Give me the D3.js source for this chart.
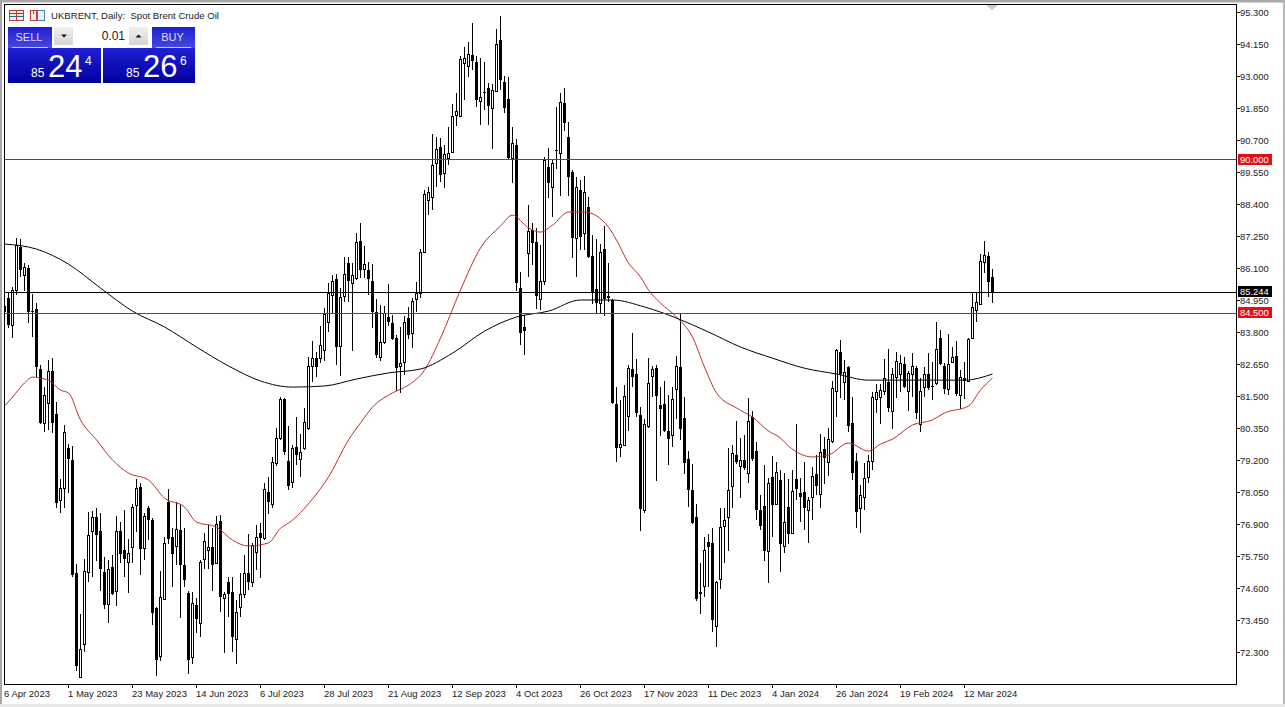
<!DOCTYPE html>
<html><head><meta charset="utf-8">
<script src="https://cdn.jsdelivr.net/npm/d3@7/dist/d3.min.js"></script>
<style>html,body{margin:0;padding:0;background:#fff;overflow:hidden}svg{display:block}text{font-family:"Liberation Sans",Arial,sans-serif}</style>
</head><body><svg id="c" width="1285" height="707"></svg>
<script>
const opens=[84.73,85.02,84.05,85.31,86.85,85.85,86.10,84.55,84.63,82.47,
80.53,81.25,82.40,80.85,77.76,78.19,79.63,79.20,75.14,71.40,
72.59,75.17,76.65,77.15,76.65,75.17,74.02,75.35,74.49,76.65,
75.96,75.53,76.07,77.58,78.23,76.04,77.47,77.04,73.88,72.15,
74.20,77.69,76.43,76.11,76.68,75.42,74.42,72.12,73.99,73.34,
75.64,75.96,76.07,75.50,77.01,74.24,74.81,74.46,72.77,73.92,
74.38,75.14,74.81,75.89,76.57,76.39,78.05,77.62,79.09,79.99,
81.39,79.16,78.41,79.67,79.23,79.63,80.35,82.58,82.86,82.86,
83.15,84.16,85.13,85.70,83.30,85.09,86.28,85.56,85.74,87.07,
86.06,86.03,85.63,84.52,82.90,83.44,84.34,84.12,83.58,82.58,
82.72,84.30,83.76,84.98,85.20,86.67,88.54,88.65,89.87,90.45,
89.51,90.05,90.27,91.60,91.56,93.47,93.36,93.75,93.50,92.10,
92.42,92.57,91.85,92.46,94.29,92.78,92.17,90.05,90.52,85.38,
83.98,86.64,87.47,87.03,84.98,85.63,89.73,89.01,90.34,90.23,
92.03,90.81,89.55,87.18,88.90,87.36,88.29,86.53,85.35,84.84,
86.78,85.09,84.95,81.21,79.67,79.74,80.78,82.47,82.29,80.82,
77.40,80.42,82.22,82.50,81.18,81.21,80.24,80.10,81.75,82.54,
80.71,79.23,78.12,77.15,74.46,74.67,76.25,76.22,73.23,74.92,
76.83,77.15,78.26,79.38,78.98,79.20,78.73,80.74,79.52,77.40,
77.55,75.93,78.59,77.62,78.48,76.11,77.51,76.57,78.52,78.01,
78.05,77.40,77.87,78.70,77.98,79.59,79.13,79.88,81.68,83.08,
82.00,82.54,80.53,79.16,77.47,77.87,78.59,79.16,81.39,81.46,
81.68,82.00,80.96,82.18,82.29,82.65,81.68,82.29,82.50,80.49,
81.82,82.29,81.86,81.97,83.58,82.58,81.75,82.72,82.94,81.53,
82.15,82.04,83.58,84.59,84.81,86.31,86.53,85.78];
const highs=[84.95,85.24,85.42,87.18,87.14,86.28,86.21,85.17,84.84,82.61,
81.82,82.79,82.86,81.28,78.52,80.46,79.77,79.70,75.46,73.66,
75.64,77.33,77.37,77.47,77.29,75.71,75.60,75.78,77.19,76.97,
77.40,76.36,77.62,78.52,78.37,77.29,77.55,77.11,73.92,75.21,
76.43,78.16,76.75,77.69,77.58,76.75,74.49,74.46,74.24,75.60,
76.57,76.86,76.75,77.19,77.22,74.46,74.99,74.99,74.17,75.14,
75.78,76.54,76.22,76.86,76.93,78.37,78.59,79.31,80.35,81.46,
81.43,80.42,79.74,80.74,80.13,81.07,82.90,83.48,83.08,84.01,
84.66,85.56,85.85,85.88,85.38,86.49,86.49,86.28,87.36,87.72,
86.90,86.31,86.24,84.98,84.77,84.73,85.52,84.41,83.69,83.98,
84.37,84.70,85.02,85.60,86.78,88.90,89.01,90.91,90.81,90.77,
90.52,91.17,91.99,92.39,93.72,94.04,94.22,94.90,93.72,93.65,
93.50,92.75,92.71,94.69,95.16,93.00,92.96,91.17,90.73,85.96,
84.41,88.36,87.72,87.54,86.93,90.09,90.41,89.98,91.88,92.39,
92.57,91.35,89.62,89.37,89.26,89.40,88.65,87.29,87.14,86.96,
87.61,86.28,84.98,81.82,81.36,81.89,82.61,83.76,82.83,81.10,
80.67,82.86,82.58,82.61,81.82,82.04,81.53,81.82,82.94,84.48,
81.46,79.52,79.05,77.62,75.50,76.43,76.54,76.75,74.85,77.47,
77.47,79.63,79.74,80.60,79.99,80.10,81.43,80.96,79.85,77.94,
79.02,78.55,79.34,79.13,78.84,78.73,78.52,78.84,80.49,78.55,
79.13,77.87,78.95,79.38,80.13,80.03,80.35,82.04,83.19,83.51,
82.79,82.58,81.46,79.45,78.30,79.09,79.38,81.64,81.93,81.93,
82.83,83.19,82.50,83.08,82.97,82.90,82.40,83.04,82.58,82.15,
82.54,83.04,82.72,84.16,83.87,82.68,83.73,83.26,83.48,82.43,
82.72,83.58,85.24,85.24,86.60,87.07,86.67,86.06];
const lows=[84.05,83.94,83.58,85.13,85.78,85.27,84.12,83.62,82.18,80.49,
80.20,80.28,80.17,77.47,77.29,77.47,78.01,74.99,71.62,71.36,
72.30,74.81,74.99,75.57,74.49,73.84,73.34,74.35,73.95,75.50,
74.99,74.42,75.50,76.61,75.07,75.60,76.32,73.27,71.44,71.97,
74.17,76.18,74.63,75.42,73.52,74.63,71.51,71.87,72.98,72.84,
75.28,75.28,74.49,75.46,73.74,72.26,73.56,72.30,71.87,73.56,
74.24,74.53,74.63,75.24,74.96,76.32,77.26,77.47,78.98,79.92,
79.38,78.12,78.19,79.02,78.59,79.56,80.28,82.00,82.18,82.68,
82.76,83.80,84.48,82.61,82.22,84.88,84.88,83.12,85.67,85.74,
85.74,85.13,83.94,82.86,82.76,83.37,84.01,83.51,81.68,81.61,
82.25,83.55,83.22,84.52,85.02,86.64,88.00,88.18,89.01,89.19,
88.97,89.80,90.23,91.20,91.53,92.14,92.96,93.21,91.88,91.24,
91.78,91.24,90.38,92.42,92.50,91.67,90.02,89.15,85.27,83.33,
82.97,85.78,86.21,84.63,84.59,85.49,88.62,87.93,89.66,88.69,
91.02,88.69,86.46,85.78,86.75,86.75,86.46,84.81,84.48,84.48,
84.37,84.88,81.21,79.13,79.31,79.70,80.24,81.82,80.74,76.65,
77.29,80.35,81.46,78.44,80.06,80.20,79.02,79.67,80.67,79.92,
78.70,77.51,76.90,74.13,73.66,74.27,74.63,73.02,72.48,74.56,
75.50,75.93,77.47,79.05,77.83,78.84,78.37,79.16,77.04,76.68,
75.57,74.78,76.43,77.58,75.17,75.86,76.18,76.54,77.76,76.97,
76.68,76.22,77.04,77.94,77.47,78.34,78.62,79.81,80.74,81.43,
81.36,80.20,78.48,76.75,76.57,77.40,78.37,78.84,80.89,80.49,
81.53,80.92,80.31,81.43,81.64,81.79,80.96,81.46,80.67,80.20,
81.46,81.71,81.36,81.89,82.61,81.57,81.53,82.68,81.50,81.03,
81.39,82.00,83.55,84.16,84.77,85.92,85.06,84.84];
const closes=[84.52,84.05,85.31,86.93,86.03,86.13,84.52,84.52,82.54,80.53,
81.53,82.40,80.53,77.65,78.19,80.20,79.23,75.07,71.80,72.41,
75.21,76.50,77.15,76.50,75.28,73.99,75.28,74.38,76.65,75.82,
75.64,75.86,77.51,78.19,76.00,77.19,77.04,73.70,72.01,74.27,
76.22,76.36,75.82,76.72,75.42,74.89,72.01,74.06,73.48,75.53,
76.29,76.07,75.42,76.90,74.27,74.38,74.38,72.84,73.74,74.38,
75.14,74.81,76.14,76.43,76.39,78.16,77.69,79.13,79.99,81.39,
79.49,78.26,79.63,79.38,79.49,80.56,82.58,82.86,82.54,83.33,
84.45,85.20,85.63,83.26,85.06,85.88,85.63,85.85,87.03,86.03,
86.24,85.70,84.52,82.97,83.44,84.48,84.16,83.55,82.50,82.68,
84.16,83.69,84.91,85.20,86.67,88.76,88.83,89.80,90.38,89.44,
90.20,90.23,91.56,91.74,93.61,93.65,93.79,93.54,92.14,92.24,
92.39,91.92,92.50,94.15,92.86,91.85,90.05,90.59,85.56,83.76,
83.83,87.43,87.00,85.09,85.63,89.98,89.15,89.87,90.30,92.07,
91.31,89.37,87.18,89.01,87.21,88.83,86.49,85.24,84.84,86.67,
84.98,85.02,81.25,79.63,79.77,81.50,82.50,82.18,80.89,77.44,
80.49,81.97,82.47,81.50,81.03,80.24,79.95,81.39,82.58,80.31,
79.09,78.12,76.93,74.20,74.38,75.96,76.07,73.45,74.81,76.79,
77.04,78.12,79.45,79.13,79.20,78.91,80.60,79.23,77.40,76.83,
75.93,78.37,77.58,78.77,76.18,76.97,76.54,78.08,78.16,77.87,
77.47,77.76,78.62,78.26,79.49,79.27,79.95,81.79,83.15,82.29,
82.36,80.42,78.73,77.33,77.94,78.55,79.16,81.46,81.64,81.71,
82.15,81.07,82.29,82.76,82.68,81.82,82.33,82.58,80.89,81.68,
82.29,81.79,81.82,83.19,82.65,81.75,82.65,82.90,81.57,82.18,
82.04,83.55,84.70,84.88,86.35,86.57,85.60,85.24];
const blackMaBars=[0,8,16,24,32,40,48,56,64,72,80,88,96,104,112,120,128,136,144,152,160,168,176,184,192,200,208,216,224,232,240,247];
const blackMaValues=[86.96,86.78,86.24,85.38,84.55,83.98,83.26,82.58,82.04,81.82,81.86,82.11,82.33,82.47,83.04,83.83,84.34,84.55,84.95,84.95,84.70,84.30,83.80,83.26,82.86,82.50,82.29,82.07,82.07,82.07,82.07,82.29];
const redMaBars=[0,2,5,7,10,11,14,16,19,23,27,31,36,40,45,48,53,57,61,66,69,71,77,81,86,89,92,97,101,105,109,114,119,124,127,131,134,137,141,145,151,153,156,159,161,164,168,172,175,178,183,187,191,194,196,202,206,211,216,219,222,227,232,235,241,244,247];
const redMaValues=[81.14,81.46,81.97,82.18,82.11,82.07,81.71,81.61,80.64,79.92,79.20,78.73,78.48,77.83,77.51,76.97,76.79,76.32,76.11,76.22,76.75,76.93,77.80,78.59,79.92,80.53,81.10,81.61,81.89,82.43,83.58,85.31,86.82,87.61,88.00,87.54,87.39,87.64,88.11,88.11,87.57,87.10,86.28,85.78,85.31,84.84,84.34,83.62,82.54,81.61,81.07,80.74,80.24,79.99,79.70,79.31,79.38,79.81,79.52,79.77,79.95,80.46,80.64,80.89,81.14,81.71,82.15];
const priceTicks=[95.3,94.15,93,91.85,90.7,89.55,88.4,87.25,86.1,84.95,83.8,82.65,81.5,80.35,79.2,78.05,76.9,75.75,74.6,73.45,72.3];
const dateLabels=["6 Apr 2023","1 May 2023","23 May 2023","14 Jun 2023","6 Jul 2023","28 Jul 2023","21 Aug 2023","12 Sep 2023","4 Oct 2023","26 Oct 2023","17 Nov 2023","11 Dec 2023","4 Jan 2024","26 Jan 2024","19 Feb 2024","12 Mar 2024"];
const levelValues=[90,84.5,85.244];
const levelColors=["#e01010","#e01010","#000000"];
const titleText="UKBRENT, Daily:  Spot Brent Crude Oil";

const svg=d3.select("#c");
const L=4,T=4,R=1236,B=684;
svg.append("rect").attr("width",1285).attr("height",707).attr("fill","#fff");
svg.append("rect").attr("width",1285).attr("height",2.5).attr("fill","#a8a8a8");
svg.append("rect").attr("width",2).attr("height",707).attr("fill","#a8a8a8");
svg.append("rect").attr("x",1283).attr("width",2).attr("height",707).attr("fill","#b8b8b8");
svg.append("rect").attr("y",704).attr("width",1285).attr("height",3).attr("fill","#e8e8e8");

const x=d3.scaleLinear().domain([0,247]).range([4.5,992.5]);
const y=d3.scaleLinear().domain([95.3,72.3]).range([12,652]);
const py=v=>Math.round(y(v));
const plot=svg.append("g").attr("shape-rendering","crispEdges");
svg.append("clipPath").attr("id","cp").append("rect").attr("x",L).attr("y",T).attr("width",R-L).attr("height",B-T);
const g=plot.append("g").attr("clip-path","url(#cp)");
const idx=d3.range(opens.length);
g.selectAll("line.w").data(idx).join("line").attr("x1",i=>x(i)).attr("x2",i=>x(i))
 .attr("y1",i=>py(highs[i])).attr("y2",i=>py(lows[i])).attr("stroke","#000");
g.selectAll("rect.b").data(idx).join("rect")
 .attr("x",i=>closes[i]>opens[i]?x(i)-1:x(i)-1.5)
 .attr("width",i=>closes[i]>opens[i]?2:3)
 .attr("y",i=>closes[i]>opens[i]?py(closes[i])+.5:py(opens[i]))
 .attr("height",i=>closes[i]>opens[i]?Math.max(1,py(opens[i])-py(closes[i])):Math.max(1,py(closes[i])-py(opens[i])))
 .attr("fill",i=>closes[i]>opens[i]?"#fff":"#000")
 .attr("stroke",i=>closes[i]>opens[i]?"#000":"none");
const ma=d3.line().x(d=>x(d[0])).y(d=>y(d[1])).curve(d3.curveMonotoneX);
const mg=svg.append("g").attr("clip-path","url(#cp)");
mg.append("path").attr("d",ma(redMaBars.map((b,i)=>[b,redMaValues[i]]))).attr("fill","none").attr("stroke","#b83030").attr("stroke-width",1);
mg.append("path").attr("d",ma(blackMaBars.map((b,i)=>[b,blackMaValues[i]]))).attr("fill","none").attr("stroke","#000").attr("stroke-width",1);
const lg=svg.append("g");
levelValues.forEach((v,i)=>lg.append("rect").attr("x",L).attr("width",R-L).attr("y",Math.round(y(v))).attr("height",1).attr("fill",levelColors[i]));
// frame
svg.append("rect").attr("x",L+.5).attr("y",T+.5).attr("width",R-L-1+.5).attr("height",B-T).attr("fill","none").attr("stroke","#000").attr("shape-rendering","crispEdges");
svg.append("path").attr("d","M986 5L998 5L992 10Z").attr("fill","#c8c8c8");
// axes
const axY=svg.append("g").attr("class","ay");
priceTicks.forEach(v=>{
  const p=Math.round(y(v));
  axY.append("line").attr("x1",R).attr("x2",R+4).attr("y1",p+.5).attr("y2",p+.5).attr("stroke","#000").attr("shape-rendering","crispEdges");
  axY.append("text").attr("x",1240).attr("y",p+4).attr("font-size",9.4).attr("fill","#222").text(v.toFixed(3));
});
levelValues.forEach((v,i)=>{
  const p=Math.floor(y(v));
  axY.append("rect").attr("x",1238).attr("y",p-5).attr("width",34).attr("height",11).attr("fill",i===2?"#000":"#e01018");
  axY.append("text").attr("x",1240).attr("y",p+4).attr("font-size",9.4).attr("fill","#fff").text(v.toFixed(3));
});
dateLabels.forEach((t,i)=>{
  const px=Math.floor(x(i*16));
  if(i>0) svg.append("line").attr("x1",px+.5).attr("x2",px+.5).attr("y1",B).attr("y2",B+4).attr("stroke","#000").attr("shape-rendering","crispEdges");
  svg.append("text").attr("x",px).attr("y",697).attr("font-size",9.5).attr("fill","#222").text(t);
});
// title + icons
svg.append("text").attr("x",51).attr("y",19).attr("font-size",9.6).attr("fill","#222").style("white-space","pre").text(titleText);
const ic=svg.append("g").attr("shape-rendering","crispEdges");
ic.append("rect").attr("x",9.5).attr("y",10.5).attr("width",14).attr("height",10).attr("fill","#f4e8e0").attr("stroke","#c04030");
[13,16].forEach(v=>ic.append("line").attr("x1",10).attr("x2",23).attr("y1",v+.5).attr("y2",v+.5).attr("stroke","#3060a0"));
ic.append("line").attr("x1",16.5).attr("x2",16.5).attr("y1",11).attr("y2",20).attr("stroke","#c04030");
ic.append("rect").attr("x",30.5).attr("y",10.5).attr("width",6).attr("height",10).attr("fill","#fbe8e0").attr("stroke","#c04030");
ic.append("rect").attr("x",37.5).attr("y",10.5).attr("width",7).attr("height",10).attr("fill","#e8f0f8").attr("stroke","#5080b0");
ic.append("rect").attr("x",33).attr("y",10).attr("width",1).attr("height",4).attr("fill","#c04030");
// trade panel
const defs=svg.append("defs");
const grad=(id,a,b)=>{const q=defs.append("linearGradient").attr("id",id).attr("x1",0).attr("x2",0).attr("y1",0).attr("y2",1);q.append("stop").attr("offset",0).attr("stop-color",a);q.append("stop").attr("offset",1).attr("stop-color",b);};
grad("gBtn","#1e1ed0","#4848e4");grad("gPanel","#2020d4","#0000a0");grad("gGray","#f0f0f0","#d4d4d4");
const tp=svg.append("g");
const panel=(px,pw,big,sup)=>{
  tp.append("rect").attr("x",px).attr("y",48).attr("width",pw).attr("height",35).attr("fill","url(#gPanel)");
  tp.append("text").attr("x",px+23).attr("y",77).attr("font-size",12).attr("font-family","Open Sans").attr("fill","#fff").text("85");
  tp.append("text").attr("x",px+40).attr("y",77).attr("font-size",31).attr("font-family","Open Sans").attr("fill","#fff").text(big);
  tp.append("text").attr("x",px+77).attr("y",65).attr("font-size",12).attr("font-family","Open Sans").attr("fill","#fff").text(sup);
};
panel(8,93,"24","4");panel(103,92,"26","6");
[[8,44,"SELL"],[152,43,"BUY"]].forEach(([px,pw,t])=>{
  tp.append("rect").attr("x",px).attr("y",27).attr("width",pw).attr("height",21).attr("fill","url(#gBtn)");
  tp.append("line").attr("x1",px+4).attr("x2",px+pw-4).attr("y1",47.5).attr("y2",47.5).attr("stroke","#c8c8ff").attr("shape-rendering","crispEdges");
  tp.append("text").attr("x",px+pw/2-1).attr("y",41).attr("text-anchor","middle").attr("font-size",11).attr("fill","#dde").text(t);
});
tp.append("rect").attr("x",54).attr("y",27).attr("width",19).attr("height",18).attr("fill","url(#gGray)");
tp.append("rect").attr("x",73).attr("y",27).attr("width",56).attr("height",18).attr("fill","#fff");
tp.append("rect").attr("x",129).attr("y",27).attr("width",19).attr("height",18).attr("fill","url(#gGray)");
tp.append("path").attr("d","M61 34.5h6l-3 3z").attr("fill","#111");
tp.append("path").attr("d","M135.5 37.5h6l-3 -3z").attr("fill","#111");
tp.append("text").attr("x",125).attr("y",40).attr("text-anchor","end").attr("font-size",12).attr("fill","#222").text("0.01");
</script></body></html>
